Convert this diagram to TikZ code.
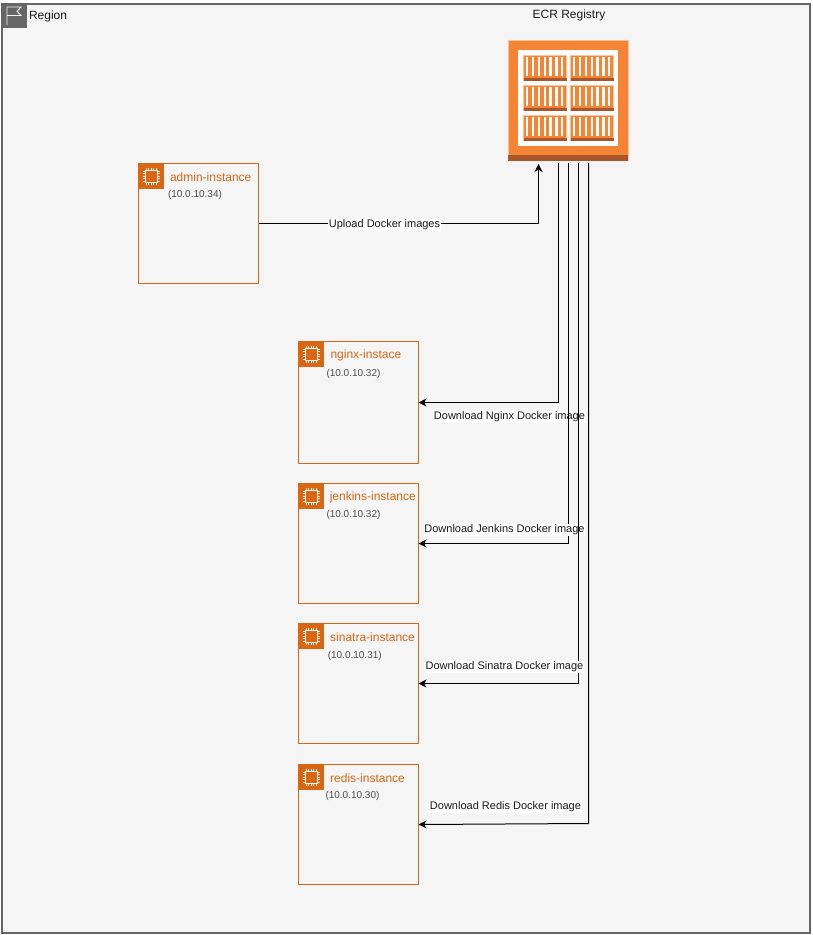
\documentclass[tikz,border=0pt]{standalone}
\usepackage{fontspec}
\setmainfont{Liberation Sans}
\usetikzlibrary{arrows.meta,calc}
\definecolor{regionfill}{HTML}{F5F5F5}
\definecolor{regionline}{HTML}{666666}
\definecolor{ec2}{HTML}{D86613}
\definecolor{ecr}{HTML}{F58534}
\definecolor{ecrdark}{HTML}{A9572A}
\definecolor{ecrlight}{HTML}{F9C29C}
\definecolor{ink}{HTML}{1A1A1A}
\tikzset{
  x=1pt,y=-1pt,
  every node/.style={inner sep=0pt,outer sep=0pt},
  instance/.style={draw=ec2,line width=1pt,fill=regionfill,minimum width=120pt,anchor=north west},
  hdr/.style={fill=ec2,minimum size=25pt,anchor=north west},
  itemtitle/.style={text=ec2,font=\fontsize{12}{14}\selectfont,anchor=west},
  ipaddr/.style={text=black!70,font=\fontsize{10}{12}\selectfont,anchor=west},
  plain/.style={text=ink,font=\fontsize{12}{14}\selectfont},
  edgelabel/.style={fill=white,text=ink,font=\fontsize{11}{12}\selectfont,inner xsep=0.5pt,inner ysep=1pt},
  conn/.style={draw=black,line width=1pt,-{Stealth[length=8pt,width=8pt,inset=2.4pt]}},
  chip/.pic={
    \draw[white,line width=0.9pt,fill=ec2] (-6,-6) rectangle (6,6);
    \foreach \t in {-4.8,-2.4,0,2.4,4.8}{
      \draw[white!85!ec2,line width=0.5pt] (\t,-8.5) -- (\t,-6) (\t,6) -- (\t,8.5)
        (-8.5,\t) -- (-6,\t) (6,\t) -- (8.5,\t);
    }
  },
  crate/.pic={
    \fill[ecr,draw=ecrlight,line width=0.6pt] (0,0) rectangle (43,25.5);
    \fill[ecrdark] (0,22.5) rectangle (43,25.5);
    \foreach \s in {0,...,6}{
      \fill[white] ({2.5+\s*5.85},1.8) rectangle ({4.8+\s*5.85},21);
    }
  }
}
\begin{document}
\begin{tikzpicture}
\useasboundingbox (0,0) rectangle (812,935);
% region
\node[draw=regionline,line width=2pt,fill=regionfill,minimum width=808.5pt,minimum height=929.5pt,anchor=north west] (region) at (1.5,3.5) {};
\node[fill=regionline,minimum width=25pt,minimum height=25pt,anchor=north west] (flagbox) at (2,3) {};
\draw[regionfill,line width=0.9pt,line join=miter] ($(flagbox.north west)+(5,22)$) -- ++(0,-18) -- ++(14,0) -- ++(-4,4.25) -- ++(4,4.25) -- ++(-14,0);
\node[plain,anchor=west] (regionlabel) at (29,16) {Region};
\node[plain] (ecrlabel) at (569,15.5) {ECR Registry};
% ECR icon
\node[fill=ecr,draw=ecrlight,line width=0.6pt,minimum width=120pt,minimum height=120pt,anchor=north west] (ecr) at (508,40.5) {};
\fill[ecrdark] (508,155) rectangle (628,160.5);
\fill[white] (518,49.5) rectangle (618,145.5);
\foreach \cx in {523.5,570.5}\foreach \cy in {55,85,115}{
  \pic at (\cx,\cy) {crate};
}
% instances
\node[instance,minimum height=120pt] (admin) at (138.5,163.5) {};
\node[instance,minimum height=122pt] (nginx) at (298.5,341.5) {};
\node[instance,minimum height=120pt] (jenkins) at (298.5,483.5) {};
\node[instance,minimum height=120pt] (sinatra) at (298.5,623.5) {};
\node[instance,minimum height=120pt] (redis) at (298.5,764.5) {};
\foreach \n in {admin,nginx,jenkins,sinatra,redis}{
  \node[hdr] (\n hdr) at (\n.north west) {};
  \pic at (\n hdr.center) {chip};
}
\node[itemtitle] (admintitle) at (170,177) {admin-instance};
\node[ipaddr] (adminip) at (168,194.5) {(10.0.10.34)};
\node[itemtitle] (nginxtitle) at (330.5,355.5) {nginx-instace};
\node[ipaddr] (nginxip) at (326.5,373.5) {(10.0.10.32)};
\node[itemtitle] (jenkinstitle) at (329.8,497.5) {jenkins-instance};
\node[ipaddr] (jenkinsip) at (326.5,514.5) {(10.0.10.32)};
\node[itemtitle] (sinatratitle) at (330.2,637) {sinatra-instance};
\node[ipaddr] (sinatraip) at (327.8,655.5) {(10.0.10.31)};
\node[itemtitle] (redistitle) at (330.2,778) {redis-instance};
\node[ipaddr] (redisip) at (325.5,795.5) {(10.0.10.30)};
% connectors
\draw[conn] (admin.east) -| ([xshift=-29.5pt,yshift=-3.5pt]ecr.south);
\node[edgelabel] (uploadlabel) at (384.5,225) {Upload Docker images};
\draw[conn] ([xshift=-9.5pt,yshift=-2.5pt]ecr.south) |- (nginx.east);
\node[edgelabel] (nginxlabel) at (509.5,417) {Download Nginx Docker image};
\draw[conn] ([xshift=0.5pt,yshift=-2.5pt]ecr.south) |- (jenkins.east);
\node[edgelabel] (jenkinslabel) at (504.5,530) {Download Jenkins Docker image};
\draw[conn] ([xshift=10.5pt,yshift=-2.5pt]ecr.south) |- (sinatra.east);
\node[edgelabel] (sinatralabel) at (504.5,667) {Download Sinatra Docker image};
\draw[conn] ([xshift=20.5pt,yshift=-2.5pt]ecr.south) -- ++(0,660.5) -- (redis.east);
\node[edgelabel] (redislabel) at (505.5,807) {Download Redis Docker image};
\end{tikzpicture}
\end{document}
